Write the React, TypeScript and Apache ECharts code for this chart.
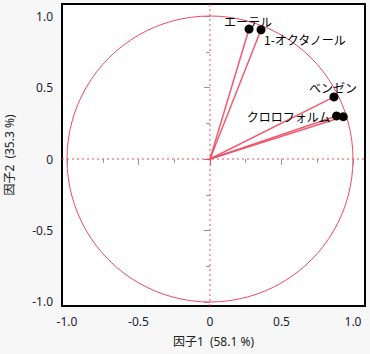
import React, { useEffect, useRef } from "react";
import * as echarts from "echarts";

const names = ["エーテル", "1-オクタノール", "ベンゼン", "クロロフォルム", ""];
const factor1 = [0.273, 0.357, 0.867, 0.885, 0.932];
const factor2 = [0.909, 0.904, 0.434, 0.301, 0.296];
const majorTicks = [-1.0, -0.5, 0.5, 1.0];
const labelTicks = [-1.0, -0.5, 0, 0.5, 1.0];
const minorTicks = [-0.75, -0.25, 0.25, 0.75];
const xTitle = "因子1\u2002(58.1 %)";
const yTitle = "因子2\u2002(35.3 %)";

const X_MIN = -1.035;
const X_MAX = 1.084;
const Y_MIN = -1.028;
const Y_MAX = 1.084;
const RED = "#ee4a62";
const FONT = "Noto Sans, Noto Sans CJK JP, sans-serif";

const labelPlacement: any[] = [
  { offset: [-1, -8], align: "center" },
  { offset: [3, 10], align: "left" },
  { offset: [-1, -9], align: "center" },
  { offset: [-6, 1], align: "right" },
  { offset: [0, 0], align: "center" },
];

export default function App() {
  const ref = useRef<HTMLDivElement>(null);
  useEffect(() => {
    const chart = echarts.init(ref.current!, null, { renderer: "svg" });
    const mkX = (values: number[], len: number, color: string, labels: boolean, extra: any = {}) => ({
      type: "value",
      min: X_MIN,
      max: X_MAX,
      position: "bottom",
      axisLine: { show: false },
      splitLine: { show: false },
      axisTick: { show: true, customValues: values, length: len, lineStyle: { color, width: 1 } },
      axisLabel: labels
        ? {
            show: true,
            customValues: labelTicks,
            formatter: (v: number) => (v === 0 ? "0" : v.toFixed(1)),
            color: "#1c1c30",
            fontSize: 12,
            fontFamily: FONT,
            margin: 9,
          }
        : { show: false },
      ...extra,
    });
    const mkY = (values: number[], len: number, color: string, labels: boolean, extra: any = {}) => ({
      type: "value",
      min: Y_MIN,
      max: Y_MAX,
      position: "left",
      axisLine: { show: false },
      splitLine: { show: false },
      axisTick: { show: true, customValues: values, length: len, lineStyle: { color, width: 1 } },
      axisLabel: labels
        ? {
            show: true,
            customValues: labelTicks,
            formatter: (v: number) => (v === 0 ? "0" : v.toFixed(1)),
            color: "#1c1c30",
            fontSize: 12,
            fontFamily: FONT,
            margin: 9,
          }
        : { show: false },
      ...extra,
    });

    const pts = factor1.map((x, i) => [x, factor2[i], names[i]]);

    chart.setOption({
      animation: false,
      backgroundColor: "#f7f7f7",
      grid: {
        left: 62,
        top: 4,
        width: 303,
        height: 302,
        show: true,
        containLabel: false,
        outerBoundsMode: "none",
        backgroundColor: "#ffffff",
        borderColor: "#000000",
        borderWidth: 2,
      },
      xAxis: [
        mkX(majorTicks, 6, "#999999", true, {
          name: xTitle,
          nameLocation: "middle",
          nameGap: 29,
          nameTextStyle: { color: "#222", fontSize: 12, fontFamily: FONT },
        }),
        mkX(minorTicks, 4, "#999999", false),
        mkX([0], 6, RED, false),
      ],
      yAxis: [
        mkY(majorTicks, 6, "#999999", true, {
          name: yTitle,
          nameLocation: "middle",
          nameGap: 47,
          nameTextStyle: { color: "#222", fontSize: 12, fontFamily: FONT },
        }),
        mkY(minorTicks, 4, "#999999", false),
        mkY([0], 6, RED, false),
      ],
      series: [
        {
          type: "custom",
          silent: true,
          data: [[0, 0]],
          renderItem: (params: any, api: any) => {
            const c = api.coord([0, 0]);
            const r = api.coord([1, 0])[0] - c[0];
            return {
              type: "group",
              children: [
                {
                  type: "circle",
                  shape: { cx: c[0], cy: c[1], r },
                  style: { fill: "none", stroke: RED, lineWidth: 1 },
                },
                {
                  type: "line",
                  shape: { x1: c[0], y1: api.coord([0, Y_MIN])[1], x2: c[0], y2: api.coord([0, Y_MAX])[1] },
                  style: { stroke: RED, lineWidth: 1, lineDash: [2, 3] },
                },
                {
                  type: "line",
                  shape: { x1: api.coord([X_MIN, 0])[0], y1: c[1], x2: api.coord([X_MAX, 0])[0], y2: c[1] },
                  style: { stroke: RED, lineWidth: 1, lineDash: [2, 3] },
                },
              ],
            };
          },
        },
        {
          type: "custom",
          silent: true,
          data: pts,
          renderItem: (params: any, api: any) => {
            const o = api.coord([0, 0]);
            const p = api.coord([api.value(0), api.value(1)]);
            return {
              type: "line",
              shape: { x1: o[0], y1: o[1], x2: p[0], y2: p[1] },
              style: { stroke: RED, lineWidth: 1.5, opacity: 0.9 },
            };
          },
        },
        {
          type: "scatter",
          symbol: "circle",
          symbolSize: 9,
          itemStyle: { color: "#000000", opacity: 1 },
          data: pts.map((p, i) => ({
            value: p,
            label: {
              show: names[i] !== "",
              position: "inside",
              offset: labelPlacement[i].offset,
              align: labelPlacement[i].align,
              formatter: names[i],
              color: "#000000",
              fontSize: 12,
              fontFamily: "Noto Sans CJK JP, sans-serif",
            },
          })),
        },
      ],
    });
    return () => chart.dispose();
  }, []);
  return (
    <div
      ref={ref}
      style={{ position: "absolute", left: 0, top: 0, width: 370, height: 354 }}
    />
  );
}
